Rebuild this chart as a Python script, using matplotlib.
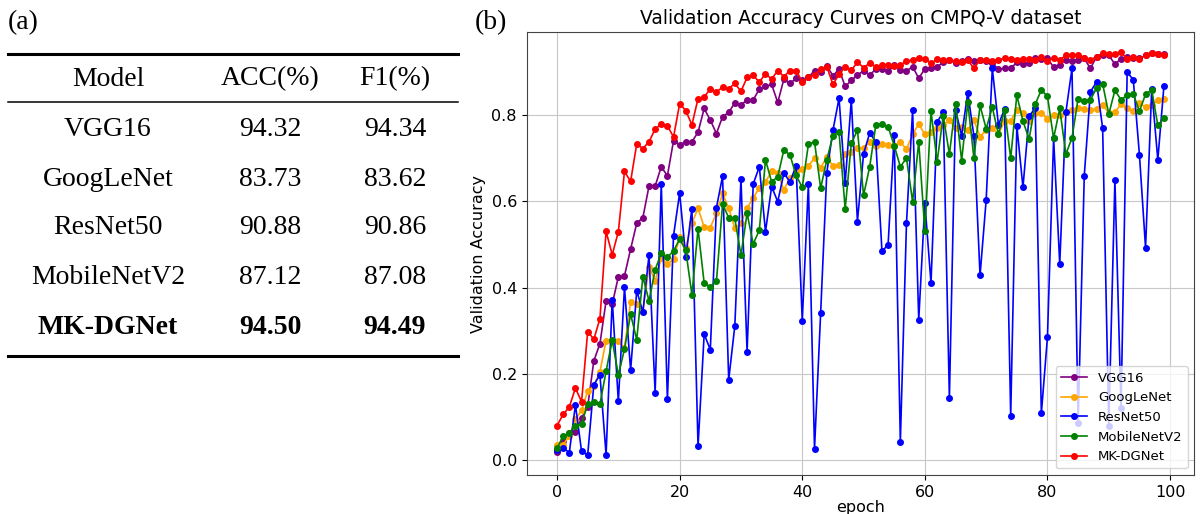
import matplotlib
matplotlib.use("Agg")
import matplotlib.pyplot as plt
from matplotlib.lines import Line2D

# ---- table (a) ----
models = ['VGG16', 'GoogLeNet', 'ResNet50', 'MobileNetV2', 'MK-DGNet']
acc = ['94.32', '83.73', '90.88', '87.12', '94.50']
f1 = ['94.34', '83.62', '90.86', '87.08', '94.49']

# ---- validation curves (b) ----
epochs = list(range(100))
vgg16 = [0.019, 0.045, 0.062, 0.066, 0.097, 0.124, 0.230, 0.270, 0.369, 0.361,
         0.425, 0.427, 0.489, 0.549, 0.562, 0.635, 0.635, 0.680, 0.659, 0.740,
         0.731, 0.738, 0.738, 0.760, 0.815, 0.788, 0.757, 0.796, 0.806, 0.828,
         0.823, 0.835, 0.835, 0.860, 0.866, 0.871, 0.829, 0.883, 0.873, 0.885,
         0.881, 0.887, 0.903, 0.899, 0.914, 0.891, 0.906, 0.866, 0.880, 0.893,
         0.902, 0.893, 0.906, 0.907, 0.901, 0.915, 0.905, 0.902, 0.912, 0.885,
         0.907, 0.910, 0.912, 0.922, 0.928, 0.920, 0.924, 0.930, 0.924, 0.928,
         0.924, 0.920, 0.906, 0.908, 0.908, 0.922, 0.918, 0.920, 0.931, 0.930,
         0.931, 0.911, 0.917, 0.928, 0.925, 0.928, 0.931, 0.908, 0.935, 0.939,
         0.938, 0.918, 0.930, 0.935, 0.933, 0.931, 0.938, 0.943, 0.942, 0.941]
googlenet = [0.035, 0.036, 0.055, 0.095, 0.115, 0.160, 0.172, 0.205, 0.277, 0.277,
             0.275, 0.260, 0.367, 0.362, 0.344, 0.448, 0.415, 0.468, 0.454, 0.466,
             0.516, 0.492, 0.549, 0.584, 0.540, 0.539, 0.572, 0.618, 0.584, 0.537,
             0.549, 0.584, 0.608, 0.631, 0.645, 0.669, 0.665, 0.626, 0.655, 0.669,
             0.674, 0.682, 0.700, 0.678, 0.702, 0.682, 0.684, 0.710, 0.713, 0.724,
             0.723, 0.738, 0.729, 0.732, 0.730, 0.729, 0.737, 0.721, 0.755, 0.779,
             0.755, 0.760, 0.769, 0.777, 0.788, 0.769, 0.771, 0.765, 0.788, 0.750,
             0.765, 0.769, 0.755, 0.786, 0.786, 0.812, 0.804, 0.786, 0.804, 0.805,
             0.791, 0.800, 0.800, 0.806, 0.812, 0.817, 0.814, 0.812, 0.814, 0.823,
             0.805, 0.806, 0.825, 0.815, 0.809, 0.828, 0.818, 0.822, 0.835, 0.837]
resnet50 = [0.023, 0.029, 0.017, 0.128, 0.020, 0.012, 0.175, 0.197, 0.012, 0.372,
            0.136, 0.401, 0.208, 0.393, 0.343, 0.475, 0.156, 0.641, 0.141, 0.520,
            0.619, 0.470, 0.583, 0.032, 0.292, 0.256, 0.585, 0.658, 0.186, 0.311,
            0.652, 0.251, 0.640, 0.680, 0.529, 0.634, 0.599, 0.665, 0.645, 0.682,
            0.323, 0.640, 0.026, 0.341, 0.666, 0.764, 0.839, 0.642, 0.835, 0.553,
            0.710, 0.758, 0.738, 0.484, 0.499, 0.753, 0.042, 0.549, 0.812, 0.325,
            0.596, 0.410, 0.784, 0.806, 0.143, 0.812, 0.752, 0.852, 0.751, 0.428,
            0.603, 0.908, 0.777, 0.814, 0.103, 0.775, 0.632, 0.797, 0.816, 0.108,
            0.286, 0.746, 0.454, 0.806, 0.908, 0.085, 0.659, 0.854, 0.876, 0.769,
            0.079, 0.650, 0.120, 0.900, 0.881, 0.708, 0.492, 0.860, 0.696, 0.868]
mobilenetv2 = [0.027, 0.056, 0.062, 0.080, 0.083, 0.131, 0.134, 0.130, 0.206, 0.278,
               0.197, 0.257, 0.338, 0.279, 0.425, 0.369, 0.441, 0.480, 0.470, 0.485,
               0.512, 0.486, 0.383, 0.536, 0.410, 0.402, 0.414, 0.593, 0.562, 0.560,
               0.475, 0.572, 0.501, 0.533, 0.696, 0.645, 0.657, 0.719, 0.707, 0.660,
               0.632, 0.732, 0.738, 0.630, 0.696, 0.752, 0.760, 0.582, 0.734, 0.765,
               0.614, 0.680, 0.777, 0.778, 0.773, 0.729, 0.680, 0.700, 0.599, 0.738,
               0.530, 0.809, 0.692, 0.798, 0.709, 0.825, 0.694, 0.829, 0.700, 0.822,
               0.768, 0.818, 0.755, 0.812, 0.700, 0.846, 0.786, 0.744, 0.825, 0.858,
               0.843, 0.746, 0.815, 0.709, 0.747, 0.838, 0.832, 0.835, 0.862, 0.872,
               0.802, 0.857, 0.835, 0.846, 0.848, 0.809, 0.848, 0.858, 0.776, 0.792]
mkdgnet = [0.080, 0.106, 0.123, 0.167, 0.135, 0.298, 0.280, 0.328, 0.530, 0.476,
           0.529, 0.669, 0.646, 0.733, 0.722, 0.738, 0.767, 0.779, 0.775, 0.749,
           0.826, 0.810, 0.777, 0.838, 0.842, 0.860, 0.854, 0.864, 0.861, 0.873,
           0.855, 0.887, 0.892, 0.876, 0.896, 0.883, 0.903, 0.889, 0.903, 0.903,
           0.877, 0.888, 0.893, 0.906, 0.912, 0.871, 0.894, 0.912, 0.904, 0.922,
           0.910, 0.920, 0.912, 0.915, 0.916, 0.914, 0.916, 0.924, 0.928, 0.933,
           0.930, 0.920, 0.929, 0.928, 0.928, 0.924, 0.922, 0.927, 0.908, 0.928,
           0.928, 0.925, 0.927, 0.932, 0.930, 0.928, 0.929, 0.930, 0.928, 0.935,
           0.925, 0.933, 0.928, 0.938, 0.938, 0.938, 0.933, 0.928, 0.935, 0.943,
           0.941, 0.941, 0.945, 0.930, 0.935, 0.930, 0.939, 0.943, 0.942, 0.939]

series = [('VGG16', vgg16, 'purple'),
          ('GoogLeNet', googlenet, 'orange'),
          ('ResNet50', resnet50, 'blue'),
          ('MobileNetV2', mobilenetv2, 'green'),
          ('MK-DGNet', mkdgnet, 'red')]

fig = plt.figure(figsize=(12.02, 5.14), dpi=100)

# left panel: table drawn in pixel-like coordinates
tab = fig.add_axes([0, 0, 470 / 1202, 1])
tab.set_xlim(0, 470)
tab.set_ylim(514, 0)
tab.axis('off')

serif = 'Liberation Serif'
tab.text(8, 23, '(a)', family=serif, fontsize=20, ha='left', va='center')
col_x = [108, 270, 395]
tab.text(col_x[0], 79, 'Model', family=serif, fontsize=20, ha='center', va='center')
tab.text(col_x[1], 79, 'ACC(%)', family=serif, fontsize=20, ha='center', va='center')
tab.text(col_x[2], 79, 'F1(%)', family=serif, fontsize=20, ha='center', va='center')
row_y = [129, 179, 228, 278, 328]
for i, m in enumerate(models):
    w = 'bold' if m == 'MK-DGNet' else 'normal'
    tab.text(col_x[0], row_y[i], m, family=serif, fontsize=20, fontweight=w, ha='center', va='center')
    tab.text(col_x[1], row_y[i], acc[i], family=serif, fontsize=20, fontweight=w, ha='center', va='center')
    tab.text(col_x[2], row_y[i], f1[i], family=serif, fontsize=20, fontweight=w, ha='center', va='center')
tab.add_line(Line2D([8, 458], [54, 54], color='black', lw=2.2))
tab.add_line(Line2D([8, 458], [102, 102], color='black', lw=1.1))
tab.add_line(Line2D([8, 458], [356, 356], color='black', lw=2.2))

fig.text(475 / 1202, 1 - 23 / 514, '(b)', family=serif, fontsize=20, ha='left', va='center')

# right panel: curves
ax = fig.add_axes([526.7 / 1202, 1 - 475 / 514, (1194.3 - 526.7) / 1202, (475 - 32.3) / 514])
for name, vals, c in series:
    ax.plot(epochs, vals, marker='o', markersize=4, linewidth=1.2, color=c, label=name)
ax.set_title('Validation Accuracy Curves on CMPQ-V dataset', fontsize=13.5)
ax.set_xlabel('epoch', fontsize=11.5, labelpad=0)
ax.set_ylabel('Validation Accuracy', fontsize=11.5)
ax.tick_params(labelsize=11.5)
for s in ax.spines.values():
    s.set_color('#444444')
ax.set_xticks([0, 20, 40, 60, 80, 100])
ax.set_yticks([0.0, 0.2, 0.4, 0.6, 0.8])
ax.grid(True, color='#c8c8c8')
ax.legend(loc='lower right', fontsize=9.5)

plt.savefig('out.png', dpi=100)
